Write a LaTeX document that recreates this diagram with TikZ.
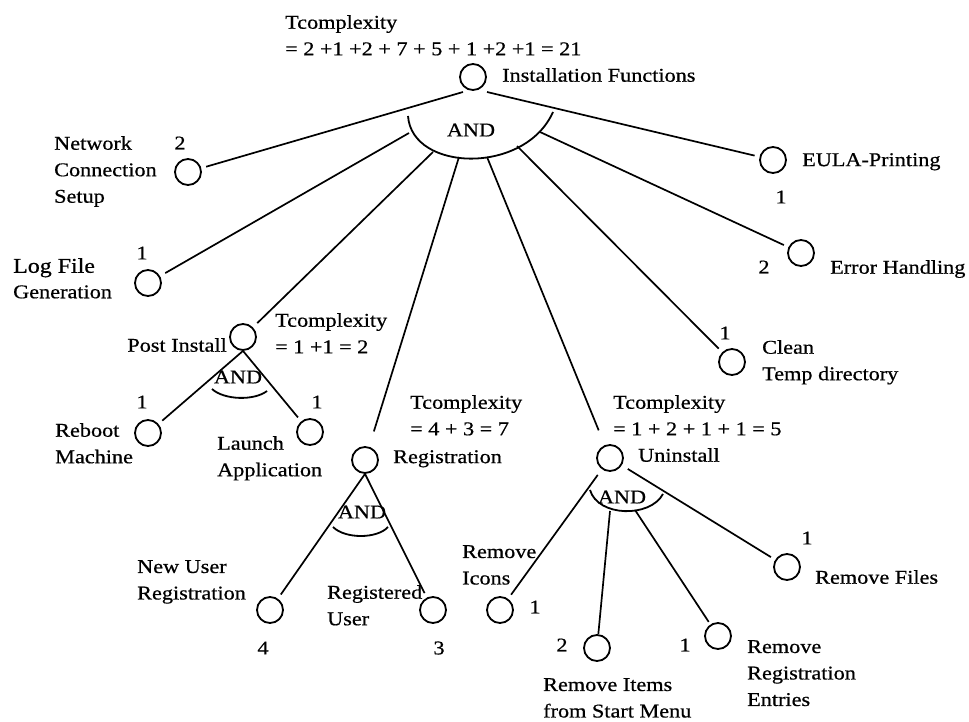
\documentclass[tikz,border=0pt]{standalone}
\usepackage{fontspec}
\setmainfont{Liberation Serif}[FakeStretch=1.14, FakeBold=0.6]
\newcommand\lblfont{\fontsize{19.5}{26.5}\selectfont}
\begin{document}
\begin{tikzpicture}[x=1pt,y=-1pt,
  fn/.style={circle, draw, minimum size=26pt, inner sep=0pt, line width=1.8pt},
  lbl/.style={anchor=north west, inner sep=0pt, align=left, font=\lblfont},
  lblr/.style={anchor=north east, inner sep=0pt, align=right, font=\lblfont},
  num/.style={inner sep=0pt, font=\lblfont},
  edge/.style={line width=1.7pt, shorten >=5pt},
  andarc/.style={line width=1.8pt}]
\useasboundingbox (0,0) rectangle (969,722);

% function nodes
\node[fn] (root)   at (473,77)  {};
\node[fn] (net)    at (188,172) {};
\node[fn] (eula)   at (773,160) {};
\node[fn] (err)    at (801,253) {};
\node[fn] (log)    at (148,283) {};
\node[fn] (post)   at (243,337) {};
\node[fn] (clean)  at (732,362) {};
\node[fn] (reboot) at (148,433) {};
\node[fn] (launch) at (310,432) {};
\node[fn] (reg)    at (365,460) {};
\node[fn] (unin)   at (610,458) {};
\node[fn] (newu)   at (270,610) {};
\node[fn] (regu)   at (433,610) {};
\node[fn] (ricons) at (500,610) {};
\node[fn] (ritems) at (597,648) {};
\node[fn] (rregs)  at (718,636) {};
\node[fn] (rfiles) at (787,567) {};

% names and complexity sums
\node[lbl] (tcRoot) at (285,15)  {Tcomplexity\\= 2 +1 +2 + 7 + 5 + 1 +2 +1 = 21};
\node[lbl] (lRoot)  at (502,68)  {Installation Functions};
\node[lbl] (lNet)   at (54,136)  {Network\\Connection\\Setup};
\node[lbl] (lEula)  at (802,153) {EULA-Printing};
\node[lbl] (lErr)   at (830,260) {Error Handling};
\node[lbl, font=\fontsize{21}{26.5}\selectfont] (lLog) at (13,258) {Log File\\[-1pt]{\lblfont Generation}};
\node[lblr] (lPost) at (227,338) {Post Install};
\node[lbl] (tcPost) at (275,313) {Tcomplexity\\= 1 +1 = 2};
\node[lbl] (lClean) at (762,340) {Clean\\Temp directory};
\node[lbl] (lReboot) at (55,423) {Reboot\\Machine};
\node[lbl] (lLaunch) at (217,436) {Launch\\Application};
\node[lbl] (tcReg)  at (410,395) {Tcomplexity\\= 4 + 3 = 7};
\node[lbl] (lReg)   at (393,450) {Registration};
\node[lbl] (tcUni)  at (613,395) {Tcomplexity\\= 1 + 2 + 1 + 1 = 5};
\node[lbl] (lUni)   at (638,448) {Uninstall};
\node[lbl] (lNewu)  at (137,560) {New User\\Registration};
\node[lbl] (lRegu)  at (327,585) {Registered\\User};
\node[lbl] (lIcons) at (462,545) {Remove\\Icons};
\node[lbl] (lItems) at (543,678) {Remove Items\\from Start Menu};
\node[lbl] (lRregs) at (747,640) {Remove\\Registration\\Entries};
\node[lbl] (lFiles) at (815,570) {Remove Files};

% complexity weights
\node[num] (wNet)    at (180,143) {2};
\node[num] (wEula)   at (781,197) {1};
\node[num] (wErr)    at (764,267) {2};
\node[num] (wLog)    at (142,253) {1};
\node[num] (wClean)  at (725,333) {1};
\node[num] (wReboot) at (142,402) {1};
\node[num] (wLaunch) at (317,402) {1};
\node[num] (wNewu)   at (263,648) {4};
\node[num] (wRegu)   at (439,648) {3};
\node[num] (wIcons)  at (535,607) {1};
\node[num] (wItems)  at (562,645) {2};
\node[num] (wRregs)  at (685,645) {1};
\node[num] (wFiles)  at (807,538) {1};

% AND decompositions
\node[num] (andRoot) at (471,130) {AND};
\node[num] (andPost) at (238,377) {AND};
\node[num] (andReg)  at (362,512) {AND};
\node[num] (andUni)  at (622,497) {AND};

\draw[andarc] (408,116) .. controls (412,172) and (525,175) .. (553,112);
\draw[andarc] (212,389) .. controls (224,400) and (254,401) .. (267,391);
\draw[andarc] (333,527) .. controls (345,539) and (377,539) .. (388,527);
\draw[andarc] (590,490) .. controls (598,517) and (650,518) .. (663,494);

% branch points
\coordinate (rootL) at (463,92);
\coordinate (rootR) at (487,92);
\coordinate (aLog)  at (409,133);
\coordinate (aPost) at (433,152);
\coordinate (aReg)  at (459,157);
\coordinate (aUni)  at (487,157);
\coordinate (aCln)  at (517,146);
\coordinate (aErr)  at (540,132);
\coordinate (uB)    at (610,511);
\coordinate (uC)    at (635,510);

% connectors
\draw[edge] (rootL) -- (net);
\draw[edge] (rootR) -- (eula);
\draw[edge, shorten >=6pt] (aLog) -- (log);
\draw[edge, shorten >=6pt] (aPost) -- (post);
\draw[edge, shorten >=16pt] (aReg) -- (reg);
\draw[edge, shorten >=16pt] (aUni) -- (unin);
\draw[edge] (aCln) -- (clean);
\draw[edge] (aErr) -- (err);
\draw[edge] (post.south) -- (reboot);
\draw[edge] (post.south) -- (launch);
\draw[edge] (reg.south) -- (newu);
\draw[edge] (reg.south) -- (regu);
\draw[edge, shorten <=7pt] (unin) -- (ricons);
\draw[edge, shorten <=7pt] (unin) -- (rfiles);
\draw[edge, shorten >=0pt] (uB) -- (ritems);
\draw[edge, shorten >=3pt] (uC) -- (rregs);
\end{tikzpicture}
\end{document}
